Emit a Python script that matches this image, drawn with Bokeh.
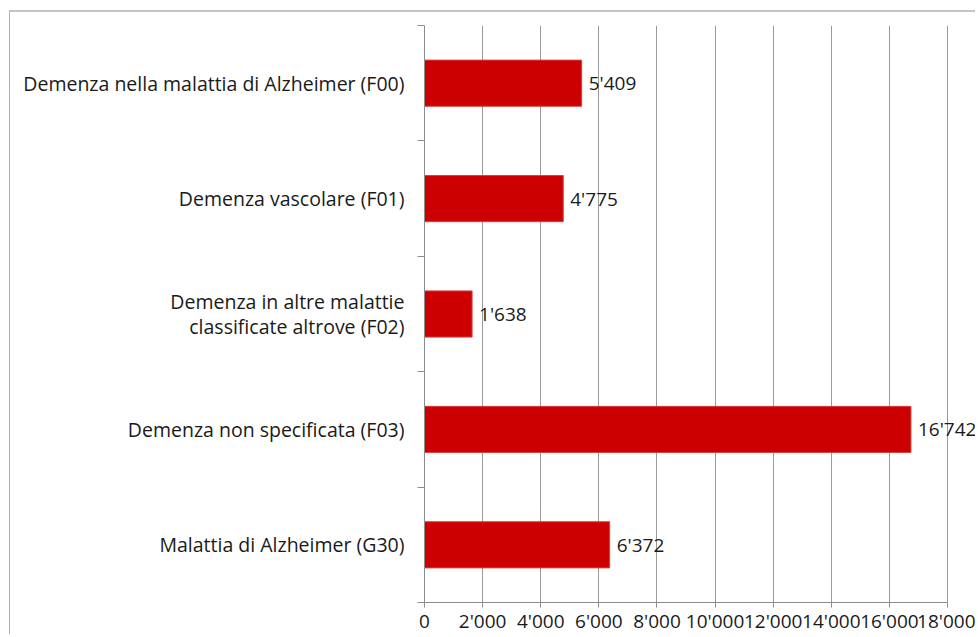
from bokeh.plotting import figure
from bokeh.models import FixedTicker, ColumnDataSource, Range1d, LabelSet
from bokeh.core.properties import value
from bokeh.embed import file_html
from bokeh.resources import INLINE

categories = [
    "Demenza nella malattia di Alzheimer (F00)",
    "Demenza vascolare (F01)",
    "Demenza in altre malattie\nclassificate altrove (F02)",
    "Demenza non specificata (F03)",
    "Malattia di Alzheimer (G30)",
]
values = [5409, 4775, 1638, 16742, 6372]
x_ticks = [0, 2000, 4000, 6000, 8000, 10000, 12000, 14000, 16000, 18000]

def fmt(v):
    return f"{v:,}".replace(",", "'")

n = len(categories)
ypos = [n - i - 0.5 for i in range(n)]
src = ColumnDataSource(dict(y=ypos, v=values, lab=[fmt(v) for v in values]))

FONT = "Open Sans"
FS = "19px"
TXT = "#1a1a1a"
X_MAX = x_ticks[-1]
X_VIEW_END = X_MAX * 552 / 523   # leave room right of the last gridline for value labels

p = figure(width=966, height=624, output_backend="svg", toolbar_location=None,
           x_range=Range1d(0, X_VIEW_END), y_range=Range1d(0, n),
           min_border_left=414, min_border_right=0, min_border_top=13, min_border_bottom=20)
p.margin = (10, 0, 0, 9)
p.outline_line_color = None
p.styles = {"border-left": "1px solid #b0b0b0", "border-top": "2px solid #c4c4c4"}

p.hbar(y="y", right="v", left=0, height=0.4, source=src, fill_color="#CC0000", line_color="#d84040", line_width=1)
labels = LabelSet(x="v", y="y", text="lab", source=src, x_offset=7, text_baseline="middle", text_align="left",
                  text_font=value(FONT), text_font_size=FS, text_color=TXT, level="overlay")
p.add_layout(labels)

# x axis
p.xaxis.ticker = FixedTicker(ticks=x_ticks)
p.xaxis.bounds = (0, X_MAX)
p.xaxis.major_label_overrides = {t: fmt(t) for t in x_ticks}
p.xaxis.major_label_text_font = FONT
p.xaxis.major_label_text_font_size = FS
p.xaxis.major_label_text_color = TXT
p.xaxis.axis_line_color = "#8c8c8c"
p.xaxis.major_tick_line_color = "#8c8c8c"
p.xaxis.major_tick_out = 5
p.xaxis.major_tick_in = 0
p.xaxis.minor_tick_line_color = None
p.xaxis.major_label_standoff = 0
p.xgrid.ticker = FixedTicker(ticks=x_ticks)
p.xgrid.grid_line_color = "#9a9a9a"

# y axis
p.yaxis.ticker = FixedTicker(ticks=ypos, minor_ticks=list(range(n + 1)))
p.yaxis.major_label_overrides = {y: c for y, c in zip(ypos, categories)}
p.yaxis.major_label_text_font = FONT
p.yaxis.major_label_text_font_size = "19.5px"
p.yaxis.major_label_text_line_height = 0.9
p.yaxis.major_label_text_color = TXT
p.yaxis.major_tick_out = 0
p.yaxis.major_tick_in = 0
p.yaxis.minor_tick_out = 7
p.yaxis.minor_tick_in = 0
p.yaxis.minor_tick_line_color = "#8c8c8c"
p.yaxis.axis_line_color = "#8c8c8c"
p.yaxis.major_label_standoff = 13
p.ygrid.grid_line_color = None

open("out.html", "w").write(file_html(p, INLINE))
